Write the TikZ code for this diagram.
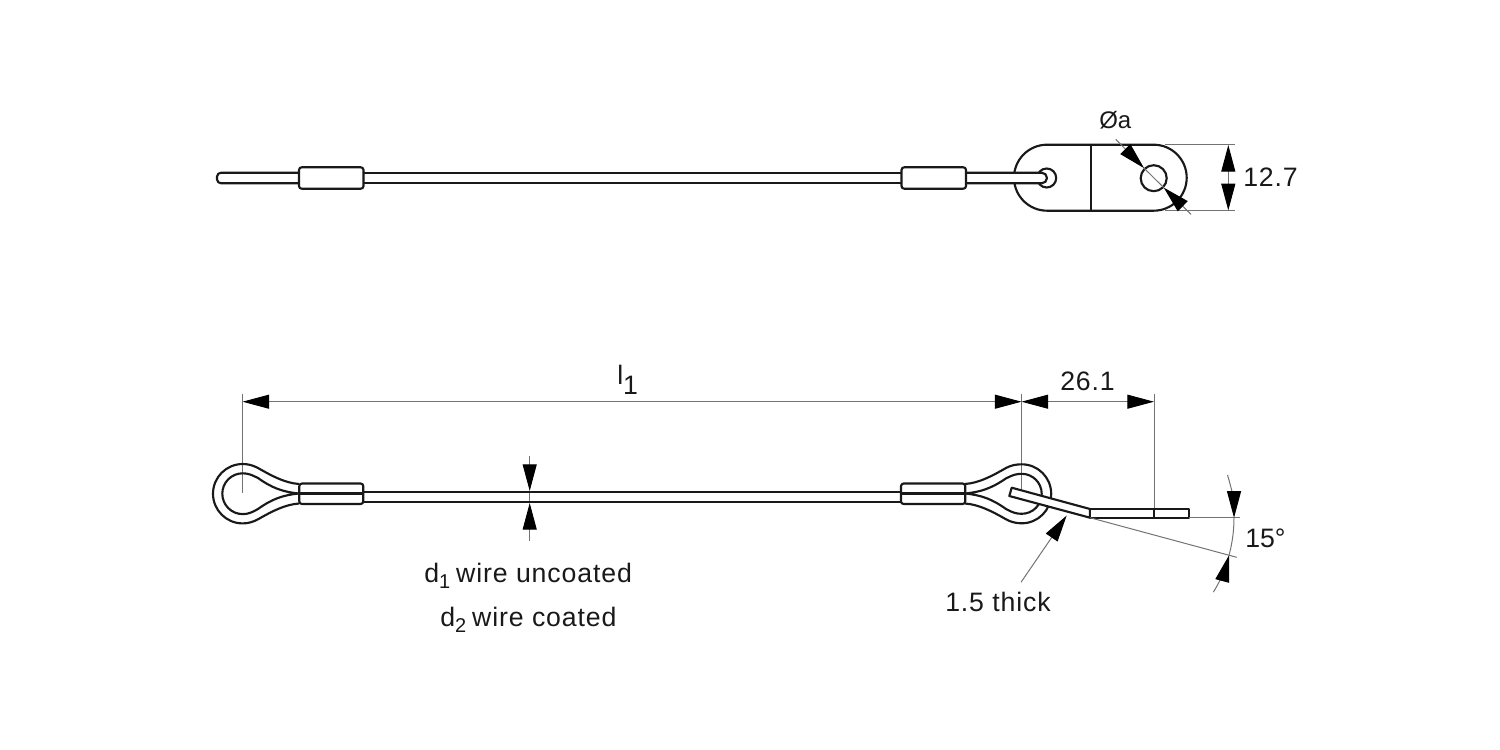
\documentclass[tikz,border=0pt]{standalone}
\usepackage{fontspec}
\setmainfont{Liberation Sans}[LetterSpace=3.3]
\usetikzlibrary{arrows.meta}

\newcommand{\wiresub}[1]{\raisebox{-4.5pt}{\fontsize{15}{15}\selectfont #1}\hspace{4.5pt}}

\begin{document}
\begin{tikzpicture}[x=0.75pt,y=0.75pt,yscale=-1,xscale=1,
  wire/.style={line width=1.6pt,line join=round,color=black!90},
  dimline/.style={line width=0.75pt,color=black!55},
  dimtip/.tip={Triangle[length=20pt,width=10.5pt,black]},
  dimtext/.style={anchor=base west,inner sep=0pt,text=black!90,font=\fontsize{20}{24}\selectfont}]
\useasboundingbox (0,0) rectangle (1500,750);

%Shape: Plate top view
\draw [wire] (1047,144.7) -- (1153.7,144.7) arc[start angle=-90,end angle=90,radius=33] -- (1047,210.7) arc[start angle=90,end angle=270,radius=33] -- cycle ;
\draw [wire] (1090.7,144.7) -- (1090.7,210.7) ;
\draw [wire] (1153.7,178.2) circle [radius=13] ;
\draw [wire] (1046.7,178) circle [radius=9.5] ;
%Shape: Wire top view
\draw [wire,fill=white,rounded corners=3pt] (299,172.7) -- (217,172.7) -- (217,183.3) -- (299,183.3) ;
\draw [wire] (363,172.7) -- (901,172.7) (363,183.3) -- (901,183.3) ;
\draw [wire,fill=white] (966,172.7) -- (1041.7,172.7) arc[start angle=-90,end angle=90,radius=5.3] -- (966,183.3) ;
\draw [wire,fill=white,rounded corners=2pt] (299,167.3) rectangle (363.5,188.7) ;
\draw [wire,fill=white,rounded corners=2pt] (901.5,167.3) rectangle (966,188.7) ;

%Shape: Extension lines top view
\draw [dimline] (1165,144.7) -- (1235,144.7) (1165,210.7) -- (1235,210.7) ;
\draw [dimline,{dimtip}-{dimtip}] (1228.3,145) -- (1228.3,210.4) ;
\draw [dimline,-{dimtip}] (1115.7,139.3) -- (1144,168.1) ;
\draw [dimline] (1144,168.1) -- (1163.7,187.6) ;
\draw [dimline,-{dimtip}] (1191,214.3) -- (1163.7,187.6) ;

%Shape: Extension lines side view
\draw [dimline] (242.5,394) -- (242.5,493) ;
\draw [dimline] (1021.5,394) -- (1021.5,491) ;
\draw [dimline] (1154,394) -- (1154,509) ;
\draw [dimline,{dimtip}-{dimtip}] (242.5,401.7) -- (1021.5,401.7) ;
\draw [dimline,{dimtip}-{dimtip}] (1021.5,401.7) -- (1154,401.7) ;
\draw [dimline] (529.7,491) -- (529.7,503) ;
\draw [dimline,-{dimtip}] (529.7,456) -- (529.7,491) ;
\draw [dimline,-{dimtip}] (529.7,540.7) -- (529.7,503) ;

%Shape: Wire side view
\draw [wire] (363,491.9) -- (901,491.9) (363,502.3) -- (901,502.3) ;
\draw [wire] (299,484) .. controls (285,483) and (272,476) .. (258,468) .. controls (253,465.3) and (248,464) .. (242.7,464) arc[start angle=-90,end angle=-270,radius=29.7] .. controls (248,523.4) and (253,522) .. (258,519.3) .. controls (272,511.3) and (285,504.5) .. (299,503.5) ;
\draw [wire] (299,493.5) .. controls (283,492) and (272,488) .. (258,478) .. controls (252,475) and (248,473.3) .. (242.7,473.3) arc[start angle=-90,end angle=-270,radius=20.4] .. controls (248,514.1) and (252,512.5) .. (258,509) .. controls (272,499) and (283,495) .. (299,493.5) ;
\draw [wire] (965,484) .. controls (979,483) and (992,476) .. (1006,468) .. controls (1011,465.3) and (1016,464.3) .. (1021.7,464.3) arc[start angle=-90,end angle=90,radius=29.5] .. controls (1016,523.3) and (1011,522) .. (1006,519.3) .. controls (992,511.3) and (979,504.5) .. (965,503.5) ;
\draw [wire] (965,493.5) .. controls (981,492) and (992,488) .. (1006,478.4) .. controls (1012,475.3) and (1016,473.8) .. (1021.7,473.8) arc[start angle=-90,end angle=90,radius=20] .. controls (1016,513.8) and (1012,512.3) .. (1006,509) .. controls (992,499) and (981,495) .. (965,493.5) ;
\draw [wire,rounded corners=2pt] (299.3,483.5) rectangle (363.3,504) ;
\draw [wire,rounded corners=2pt] (901,483.5) rectangle (965.3,504) ;
\draw [wire] (299.3,493.5) -- (363.3,493.5) (901,493.5) -- (965.3,493.5) ;

%Shape: Plate side view
\draw [wire,fill=white] (1011.7,487.7) -- (1090,509) -- (1090,517.7) -- (1009.3,496) -- cycle ;
\draw [wire,fill=white] (1090,509) -- (1189,509) -- (1189,517.7) -- (1090,517.7) -- cycle ;
\draw [wire] (1154,509) -- (1154,517.7) ;

%Shape: Angle dimension
\draw [dimline] (1189,517.7) -- (1240,517.7) ;
\draw [dimline] (1090,517.7) -- (1236.7,557.3) ;
\draw [dimline] (1234,517.7) arc[start angle=0,end angle=15,radius=144] ;
\draw [dimline,-{dimtip}] (1227.5,475) arc[start angle=-17.3,end angle=0,radius=144] ;
\draw [dimline,-{dimtip}] (1213.4,592.1) arc[start angle=31,end angle=15,radius=144] ;
%Shape: Thickness leader
\draw [dimline,-{dimtip}] (1021,582.3) -- (1066.7,515.5) ;

% Text Node
\draw (1099,128.3) node (holetext) [dimtext,font=\fontsize{18}{22}\selectfont\addfontfeature{LetterSpace=0}] {Øa};
% Text Node
\draw (1243,186.7) node (widthtext) [dimtext] {12.7};
% Text Node
\draw (617,384.3) node (lengthtext) [dimtext] {l\raisebox{-7.5pt}{1}};
% Text Node
\draw (1060,390) node (offsettext) [dimtext] {26.1};
% Text Node
\draw (424,582.7) node (uncoatedtext) [dimtext] {d\wiresub{1}wire uncoated};
% Text Node
\draw (440,626.7) node (coatedtext) [dimtext] {d\wiresub{2}wire coated};
% Text Node
\draw (945,611.7) node (thicktext) [dimtext] {1.5 thick};
% Text Node
\draw (1245,547.5) node (angletext) [dimtext,font=\fontsize{20}{24}\selectfont\addfontfeature{LetterSpace=0}] {15°};

\end{tikzpicture}
\end{document}
